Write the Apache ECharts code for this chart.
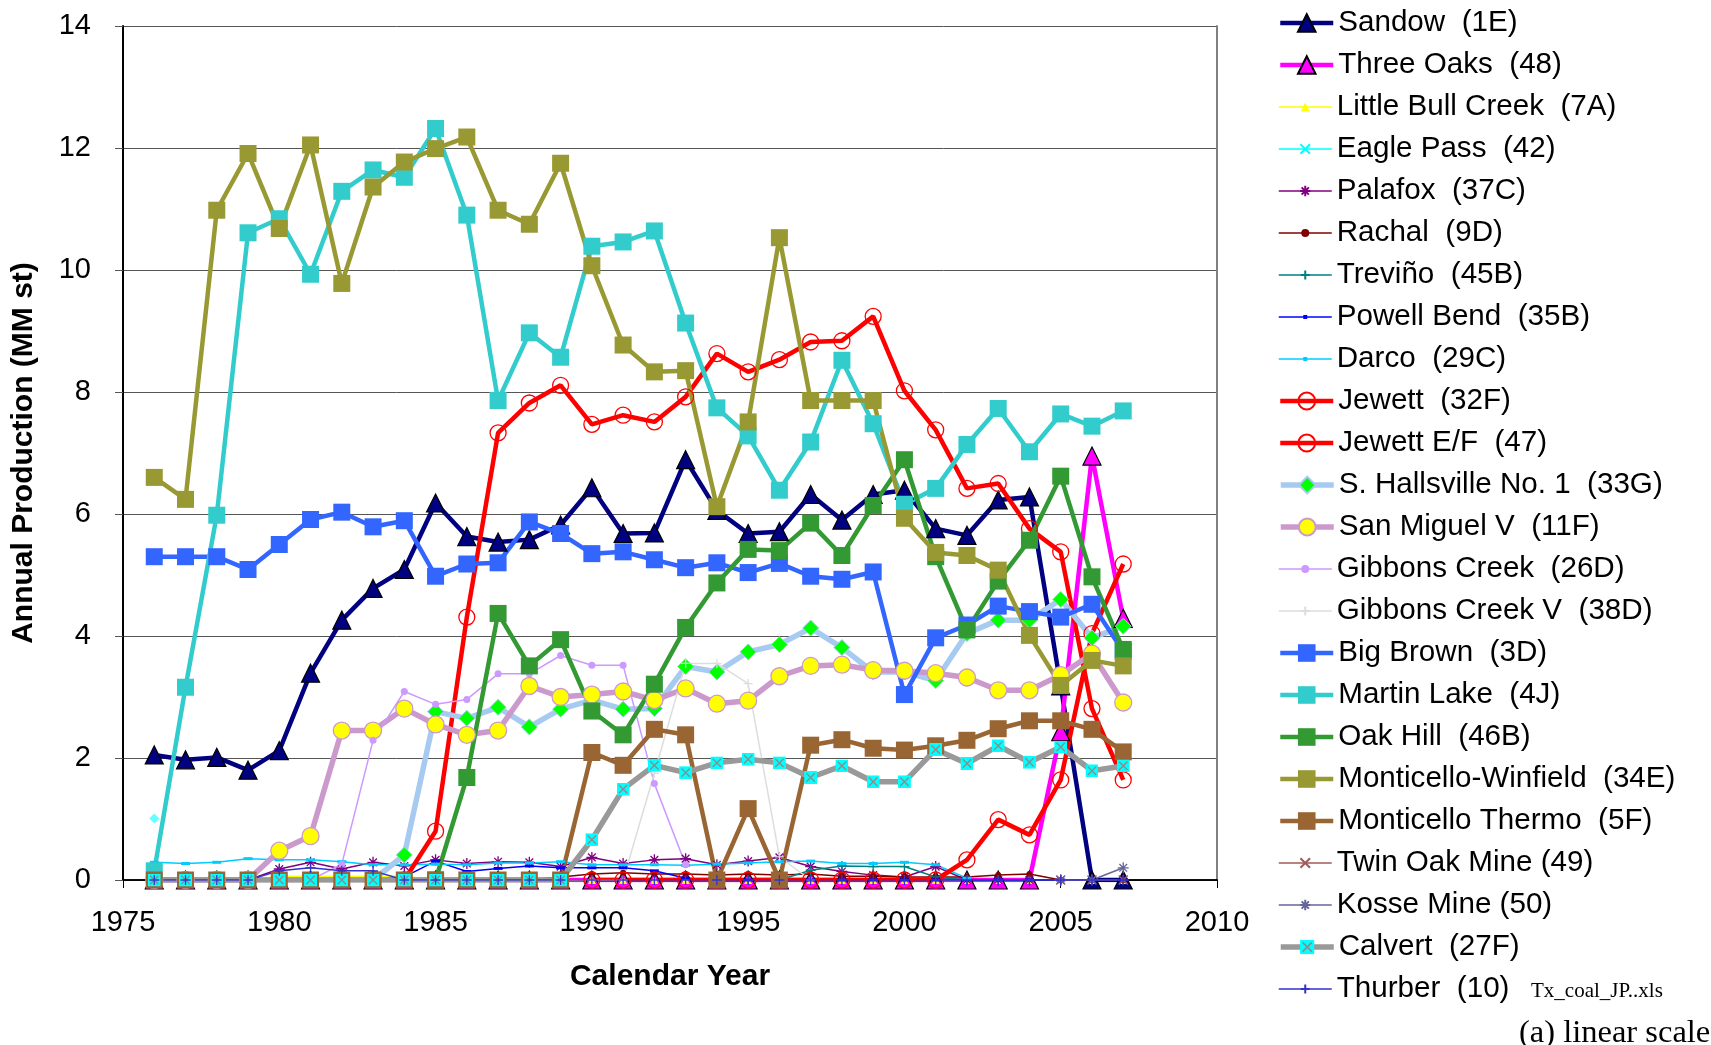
<!DOCTYPE html>
<html>
<head>
<meta charset="utf-8">
<script src="https://cdn.jsdelivr.net/npm/echarts@6/dist/echarts.min.js"></script>
<style>
html,body{margin:0;padding:0;background:#fff;}
#chart{width:1711px;height:1045px;}
</style>
</head>
<body>
<div id="chart"></div>
<script>
// Calendar years on the x axis
const years = [1976,1977,1978,1979,1980,1981,1982,1983,1984,1985,1986,1987,1988,1989,1990,1991,
               1992,1993,1994,1995,1996,1997,1998,1999,2000,2001,2002,2003,2004,2005,2006,2007];
const xTickLabels = [1975,1980,1985,1990,1995,2000,2005,2010];
const yTickLabels = [0,2,4,6,8,10,12,14];

// Annual production per mine, MM st (null = no record)
const sandow = [2.05,1.97,2.01,1.80,2.12,3.39,4.26,4.78,5.09,6.18,5.63,5.54,5.58,5.82,6.43,5.68,
                5.69,6.89,6.06,5.68,5.71,6.32,5.90,6.32,6.39,5.76,5.65,6.23,6.28,3.18,0,0];
const threeOaks = [0,0,0,0,0,0,0,0,0,0,0,0,0,0,0,0,0,0,0,0,0,0,0,0,0,0,0,0,0,2.43,6.95,4.29];
const littleBullCreek = [0,0,0,0,0.06,0.06,0.06,0.06,0.06,0,0,0,0,0,0,0,0,0,0,0,0,0,0,0,0,0,0,0,0,0,0,0];
const eaglePass = [1.01,null,null,null,null,null,null,null,null,null,null,null,null,null,null,null,
                   null,null,null,null,null,null,null,null,null,null,null,null,null,null,null,null];
const palafox = [0,0,0,0,0.18,0.29,0.18,0.29,0.23,0.33,0.27,0.30,0.29,0.22,0.37,0.27,
                 0.33,0.35,0.25,0.31,0.37,0.22,0.14,0.08,0.05,0.22,0,0,0,0,0,0];
const rachal = [0,0,0,0,0,0,0,0,0,0,0,0,0,0.05,0.10,0.12,0.10,0.10,0.08,0.10,0.08,0.10,
                0.06,0.06,0.05,0.05,0.05,0.08,0.10,0,0,0];
const trevino = [null,null,null,null,null,null,null,null,null,null,null,null,null,null,null,null,
                 null,null,null,0,0,0.16,0.23,0.22,0.22,0.05,0,0,0,0,0,0];
const powellBend = [0,0,0,0,0,0,0,0,0.05,0.31,0.14,0.19,0.23,0.20,0.20,0.20,0.15,0.03,
                    0,0,0,0,0,0,0,0,0,0,0,0,0,0];
const darco = [0.29,0.27,0.29,0.35,0.33,0.33,0.30,0.25,0.25,0.26,0.25,0.28,0.28,0.30,0.25,0.25,
               0.25,0.24,0.26,0.28,0.30,0.31,0.27,0.27,0.29,0.25,0.03,null,null,null,null,null];
const jewett = [null,null,null,null,null,null,null,null,0,0.80,4.31,7.33,7.82,8.11,7.47,7.62,
                7.51,7.92,8.63,8.33,8.53,8.82,8.84,9.24,8.02,7.38,6.42,6.50,5.76,5.38,2.81,1.64];
const jewettEF = [null,null,null,null,null,null,null,null,null,null,null,null,null,null,0,0,
                  0,0,0,0,0,0,0,0,0,0,0.33,0.99,0.74,1.64,4.04,5.18];
const sHallsville = [null,null,null,null,null,null,null,0,0.41,2.76,2.65,2.83,2.51,2.80,2.95,2.80,
                     2.81,3.50,3.41,3.74,3.86,4.13,3.81,3.41,3.41,3.27,4.04,4.26,4.26,4.60,3.97,4.16];
const sanMiguel = [0,0,0,0,0.48,0.72,2.45,2.45,2.81,2.55,2.38,2.45,3.18,3.00,3.04,3.09,
                   2.95,3.14,2.89,2.94,3.34,3.51,3.53,3.44,3.43,3.39,3.32,3.11,3.11,3.36,3.71,2.91];
const gibbonsCreek = [0,0,0,0,0,0,0.26,2.29,3.09,2.88,2.96,3.38,3.38,3.68,3.52,3.52,
                      1.58,0.25,null,null,null,null,null,null,null,null,null,null,null,null,null,null];
const gibbonsCreekV = [null,null,null,null,null,null,null,null,null,null,null,null,null,null,0,0,
                       1.75,3.55,3.55,3.22,0.38,0,null,null,null,null,null,null,null,null,null,null];
const bigBrown = [5.30,5.30,5.30,5.09,5.50,5.91,6.03,5.79,5.89,4.98,5.18,5.20,5.87,5.68,5.35,5.38,
                  5.25,5.12,5.20,5.04,5.19,4.98,4.93,5.05,3.04,3.97,4.18,4.49,4.40,4.31,4.52,3.75];
const martinLake = [0.15,3.16,5.98,10.61,10.84,9.93,11.29,11.64,11.52,12.32,10.90,7.86,8.97,8.57,10.39,10.46,
                    10.64,9.13,7.74,7.28,6.39,7.18,8.52,7.48,6.16,6.42,7.14,7.73,7.02,7.64,7.44,7.69];
const oakHill = [null,null,null,null,null,null,null,null,null,0,1.68,4.37,3.51,3.94,2.77,2.38,
                 3.21,4.14,4.87,5.42,5.40,5.85,5.32,6.14,6.89,5.30,4.10,4.90,5.57,6.62,4.97,3.78];
const monticelloWinfield = [6.60,6.24,10.98,11.91,10.68,12.05,9.78,11.36,11.77,11.99,12.18,10.98,10.75,11.75,10.07,8.77,
                            8.33,8.35,6.12,7.51,10.53,7.86,7.86,7.86,5.93,5.37,5.32,5.08,4.01,3.19,3.60,3.51];
const monticelloThermo = [0,0,0,0,0,0,0,0,0,0,0,0,0,0,2.09,1.88,
                          2.47,2.38,0,1.17,0,2.21,2.30,2.16,2.13,2.20,2.29,2.48,2.61,2.61,2.47,2.10];
const twinOak = [null,null,null,null,null,null,null,null,null,null,null,null,null,null,null,null,
                 null,null,null,null,null,null,null,null,null,null,null,null,null,0,0,0];
const kosse = [null,null,null,null,null,null,null,null,null,null,null,null,null,null,null,null,
               null,null,null,null,null,null,null,null,null,null,null,null,null,0,0,0.20];
const calvert = [0,0,0,0,0,0,0,0,0,0,0,0,0,0,0.66,1.49,
                 1.88,1.76,1.92,1.98,1.92,1.68,1.87,1.61,1.61,2.14,1.91,2.20,1.93,2.18,1.79,1.87];
const thurber = [0,0,0,0,0.15,0.20,0.15,0.15,0,0,0,0,0,0,0,0,0,0,0,0,0,0,0,0,0,0,0,0,0,0,0,0];

// pair each value with its year, dropping missing years
function pts(vals) {
  return years.map((y, i) => [y, vals[i]]).filter(p => p[1] !== null);
}

const ASTER = 'path://M5,0L5,10M0,5L10,5M1.5,1.5L8.5,8.5M8.5,1.5L1.5,8.5';
const CROSS = 'path://M0,0L10,10M10,0L0,10';
const PLUS = 'path://M5,0L5,10M0,5L10,5';
const calvertSvg = "<svg xmlns='http://www.w3.org/2000/svg' width='28' height='28'>" +
  "<rect width='28' height='28' fill='#00FFFF'/>" +
  "<path d='M5,5L23,23M23,5L5,23' stroke='#8C8C8C' stroke-width='3'/></svg>";
const CALVERT = 'image://data:image/svg+xml;charset=utf-8,' + encodeURIComponent(calvertSvg);

// name, values, line colour, line width, symbol, symbol size, marker fill, marker border, border width, legend icon height
function mk(name, vals, lc, lw, sym, size, fill, border, bw, legendH) {
  return {
    type: 'line', name: name, data: pts(vals),
    symbol: sym, symbolSize: size, showAllSymbol: true,
    lineStyle: { color: lc, width: lw },
    itemStyle: { color: fill, borderColor: border, borderWidth: bw },
    emphasis: { disabled: true }, silent: true, animation: false,
    legendH: legendH
  };
}

const series = [
  mk('Sandow  (1E)', sandow, '#000080', 4.5, 'triangle', 18, '#000080', '#000000', 1.2, 22),
  mk('Three Oaks  (48)', threeOaks, '#FF00FF', 4.5, 'triangle', 18, '#FF00FF', '#000000', 1.2, 22),
  mk('Little Bull Creek  (7A)', littleBullCreek, '#FFFF00', 1.5, 'triangle', 8, '#FFFF00', '#FFFF00', 0, 11),
  mk('Eagle Pass  (42)', eaglePass, '#00FFFF', 1.5, CROSS, 9, '#00FFFF', '#00FFFF', 1.3, 12),
  mk('Palafox  (37C)', palafox, '#800080', 1.5, ASTER, 11, '#800080', '#800080', 1.3, 13),
  mk('Rachal  (9D)', rachal, '#800000', 1.5, 'circle', 6, '#800000', '#800000', 0, 10),
  mk('Treviño  (45B)', trevino, '#008080', 1.5, PLUS, 10, '#008080', '#008080', 1.3, 11),
  mk('Powell Bend  (35B)', powellBend, '#0000FF', 1.5, 'rect', [9, 3], '#0000FF', '#0000FF', 0, 5),
  mk('Darco  (29C)', darco, '#00CCFF', 1.5, 'rect', [9, 3], '#00CCFF', '#00CCFF', 0, 5),
  mk('Jewett  (32F)', jewett, '#FF0000', 4.5, 'circle', 16, 'rgba(255,255,255,0)', '#FF0000', 1.3, 21),
  mk('Jewett E/F  (47)', jewettEF, '#FF0000', 4.5, 'circle', 16, 'rgba(255,255,255,0)', '#FF0000', 1.3, 21),
  mk('S. Hallsville No. 1  (33G)', sHallsville, '#A6CAF0', 5.5, 'diamond', 16, '#00FF00', '#A6CAF0', 1, 21),
  mk('San Miguel V  (11F)', sanMiguel, '#CC99CC', 5.5, 'circle', 17, '#FFFF00', '#CC99CC', 1.3, 21),
  mk('Gibbons Creek  (26D)', gibbonsCreek, '#CC99FF', 1.5, 'circle', 7, '#CC99FF', '#CC99FF', 0, 10),
  mk('Gibbons Creek V  (38D)', gibbonsCreekV, '#DDDDDD', 1.5, PLUS, 9, '#DDDDDD', '#DDDDDD', 1.3, 11),
  mk('Big Brown  (3D)', bigBrown, '#3366FF', 4.5, 'rect', 17, '#3366FF', '#3366FF', 0, 22),
  mk('Martin Lake  (4J)', martinLake, '#33CCCC', 4.5, 'rect', 17, '#33CCCC', '#33CCCC', 0, 22),
  mk('Oak Hill  (46B)', oakHill, '#339933', 4.5, 'rect', 17, '#339933', '#339933', 0, 22),
  mk('Monticello-Winfield  (34E)', monticelloWinfield, '#999933', 4.5, 'rect', 17, '#999933', '#999933', 0, 22),
  mk('Monticello Thermo  (5F)', monticelloThermo, '#996633', 4.5, 'rect', 17, '#996633', '#996633', 0, 22),
  mk('Twin Oak Mine (49)', twinOak, '#A05A5A', 1.5, CROSS, 9, '#A05A5A', '#A05A5A', 1.3, 12),
  mk('Kosse Mine (50)', kosse, '#666699', 1.5, ASTER, 11, '#666699', '#666699', 1.3, 13),
  mk('Calvert  (27F)', calvert, '#999999', 5.5, CALVERT, 13, '#999999', '#999999', 0, 18),
  mk('Thurber  (10)', thurber, '#3333CC', 1.5, PLUS, 10, '#3333CC', '#3333CC', 1.3, 11)
];

// the lone 1976 reading is drawn as a pale diamond
series[3].data = series[3].data.map(p => ({
  value: p, symbol: 'diamond', symbolSize: 10, itemStyle: { color: '#66FFFF', borderWidth: 0 }
}));

const FONT = "'Liberation Sans', Arial, sans-serif";

// one legend row per series so each icon keeps its own marker size
const legends = series.map((s, i) => ({
  orient: 'vertical', left: 1278, top: 8 + 42 * i, padding: 0,
  itemWidth: 53, itemHeight: s.legendH, itemGap: 0,
  lineStyle: { width: 'inherit' },
  textStyle: { fontFamily: FONT, fontSize: 29.6, color: '#000', lineHeight: 30 },
  selectedMode: false,
  data: [s.name]
}));
series.forEach(s => { delete s.legendH; });

const option = {
  backgroundColor: '#ffffff',
  animation: false,
  grid: { left: 123, right: 494, top: 26, bottom: 165, containLabel: false },
  legend: legends,
  xAxis: [{
    type: 'value', min: xTickLabels[0], max: xTickLabels[xTickLabels.length - 1], interval: 5,
    axisLine: { show: true, onZero: false, lineStyle: { color: '#000', width: 1.5 } },
    axisTick: { show: true, inside: false, length: 8, lineStyle: { color: '#000', width: 1 } },
    axisLabel: { fontFamily: FONT, fontSize: 29, color: '#000', margin: 28, formatter: v => String(v) },
    splitLine: { show: false },
    name: 'Calendar Year', nameLocation: 'middle', nameGap: 82,
    nameTextStyle: { fontFamily: FONT, fontSize: 30, fontWeight: 'bold', color: '#000' }
  }, {
    type: 'value', position: 'top', min: 1975, max: 2010,
    axisLine: { show: true, lineStyle: { color: '#000', width: 1.5 } },
    axisTick: { show: false }, axisLabel: { show: false }, splitLine: { show: false }
  }],
  yAxis: [{
    type: 'value', min: yTickLabels[0], max: yTickLabels[yTickLabels.length - 1], interval: 2,
    axisLine: { show: true, onZero: false, lineStyle: { color: '#000', width: 2 } },
    axisTick: { show: true, inside: false, length: 8, lineStyle: { color: '#555', width: 1 } },
    axisLabel: { fontFamily: FONT, fontSize: 29, color: '#000', margin: 32 },
    splitLine: { show: true, lineStyle: { color: '#555', width: 1 } },
    name: 'Annual Production (MM st)', nameLocation: 'middle', nameGap: 84, nameRotate: 90,
    nameTextStyle: { fontFamily: FONT, fontSize: 30, fontWeight: 'bold', color: '#000' }
  }, {
    type: 'value', position: 'right', min: 0, max: 14,
    axisLine: { show: true, lineStyle: { color: '#808080', width: 2 } },
    axisTick: { show: false }, axisLabel: { show: false }, splitLine: { show: false }
  }],
  graphic: [
    { type: 'text', left: 1531, top: 981,
      style: { text: 'Tx_coal_JP..xls', fontFamily: "'Liberation Serif', 'Times New Roman', serif", fontSize: 21, fill: '#000' } },
    { type: 'text', left: 1519, top: 1017,
      style: { text: '(a) linear scale', fontFamily: "'Liberation Serif', 'Times New Roman', serif", fontSize: 32.5, fill: '#000' } }
  ],
  series: series
};

const chart = echarts.init(document.getElementById('chart'), null, { renderer: 'canvas' });
chart.setOption(option);
</script>
</body>
</html>
